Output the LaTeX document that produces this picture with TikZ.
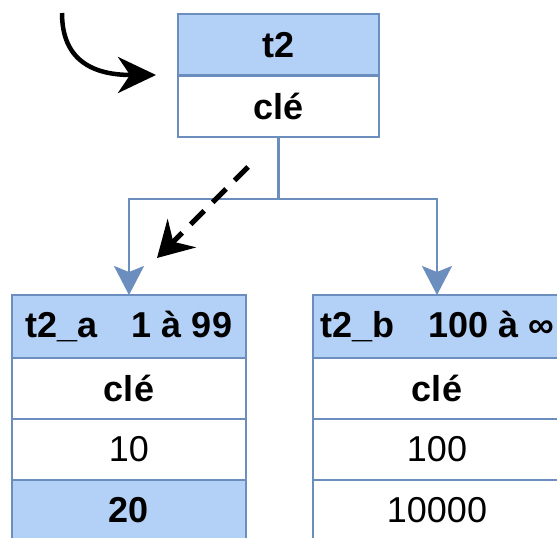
\documentclass[tikz,border=0pt]{standalone}
\usepackage{fontspec}
\setmainfont{Liberation Sans}
\usetikzlibrary{arrows.meta}
\definecolor{cellfill}{HTML}{B3D0F7}
\definecolor{cellline}{HTML}{6C8EBF}
\begin{document}
\begin{tikzpicture}[x=1pt,y=-1pt,
  cell/.style={draw=cellline, line width=2.5pt, rectangle, inner sep=0pt, outer sep=0pt,
    anchor=north west, fill=white, font=\fontsize{36}{43}\selectfont},
  hcell/.style={cell, fill=cellfill},
  conn/.style={draw=cellline, line width=2.5pt, -{Stealth[length=29pt,width=30pt,inset=6pt]}},
  curvearrow/.style={draw=black, line width=4.5pt, -{Stealth[length=38pt,width=36pt,inset=12pt]}},
  dasharrow/.style={draw=black, line width=5pt, dash pattern=on 19pt off 12pt,
    -{Stealth[length=35pt,width=40pt,inset=12pt]}}]
\useasboundingbox (0,0) rectangle (557,538);
\clip (0,0) rectangle (557,538);
% top table
\node[hcell, minimum width=201pt, minimum height=61.5pt] (t2h) at (178,14) {\bfseries t2};
\node[cell, minimum width=201pt, minimum height=61.5pt] (t2k) at (178,75.5) {\bfseries clé};
% left table
\node[hcell, minimum width=234pt, minimum height=63pt] (tah) at (12,295) {\bfseries t2\_a\hspace{34pt}1 à 99};
\node[cell, minimum width=234pt, minimum height=61pt] (tak) at (12,358) {\bfseries clé};
\node[cell, minimum width=234pt, minimum height=61pt] (ta1) at (12,419) {10};
\node[hcell, minimum width=234pt, minimum height=61pt] (ta2) at (12,480) {\bfseries 20};
% right table
\node[hcell, minimum width=248pt, minimum height=63pt] (tbh) at (313,295) {\bfseries t2\_b\hspace{34pt}100 à ∞};
\node[cell, minimum width=248pt, minimum height=61pt] (tbk) at (313,358) {\bfseries clé};
\node[cell, minimum width=248pt, minimum height=61pt] (tb1) at (313,419) {100};
\node[cell, minimum width=248pt, minimum height=61pt] (tb2) at (313,480) {10000};
% connectors
\coordinate (split) at (t2k.south |- 0,199);
\draw[draw=cellline, line width=2.5pt] (t2k.south) -- (split);
\draw[conn] (split) -| (tah.north);
\draw[conn] (split) -| (tbh.north);
% black arrows
\coordinate (cstart) at (62,13);
\coordinate (cend) at (156,75);
\draw[curvearrow] (cstart) .. controls (62,62) and (95,75) .. (cend);
\coordinate (dstart) at (248,167);
\coordinate (dend) at (157,258);
\draw[dasharrow] (dstart) -- (dend);
\end{tikzpicture}
\end{document}
